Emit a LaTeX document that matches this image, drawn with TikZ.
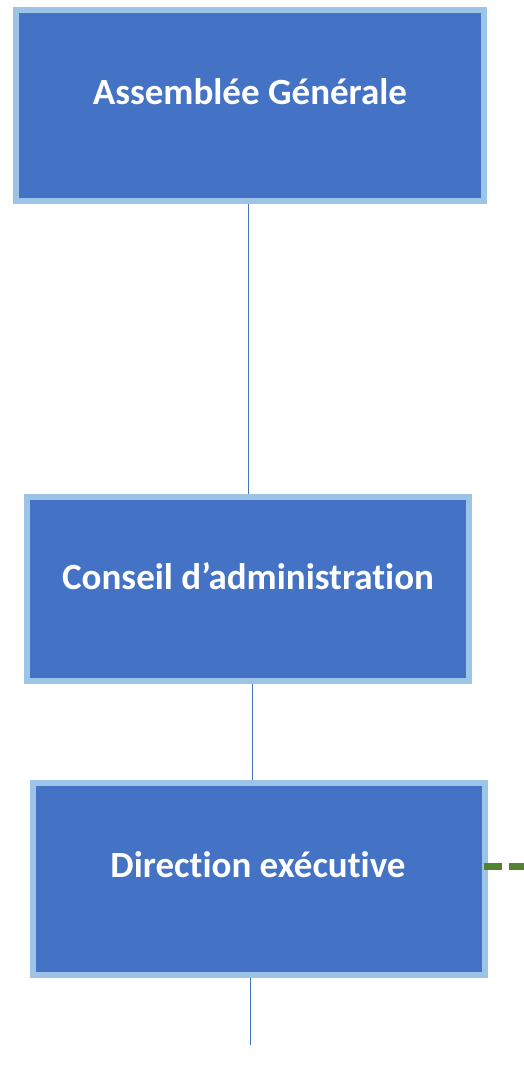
\documentclass[tikz,border=0pt]{standalone}
\usepackage{fontspec}
\setmainfont{Carlito}[Ligatures=NoCommon]
\usepackage{xcolor}
\usepackage{tikz}
\definecolor{boxfill}{HTML}{4472C4}
\definecolor{boxedge}{HTML}{9DC3E6}
\definecolor{dashgreen}{HTML}{548235}
\tikzset{
  orgbox/.style={draw=boxedge,line width=6pt,fill=boxfill,inner sep=0pt},
  boxtext/.style={text=white,font=\fontsize{37}{44}\selectfont\bfseries},
  link/.style={draw=boxfill,line width=1pt}
}

\begin{document}
\begin{tikzpicture}[x=1pt,y=-1pt]
    \useasboundingbox (0,0) rectangle (524,1067);
    \node[orgbox,minimum width=468pt,minimum height=191pt] (ag) at (250,105.5) {};
    \node[orgbox,minimum width=442pt,minimum height=184pt] (ca) at (248,589) {};
    \node[orgbox,minimum width=452pt,minimum height=192pt] (de) at (259,879) {};
    \node[boxtext] (agt) at (250,92) {Assemblée Générale};
    \node[boxtext] (cat) at (248,576) {Conseil d’administration};
    \node[boxtext] (det) at (258,865) {Direction exécutive};
    \coordinate (deend) at (250,1045);
    \coordinate (greenend) at (524,866);
    \draw[link] (ag.south -| 248,0) -- (ca.north -| 248,0);
    \draw[link] (ca.south -| 252,0) -- (de.north -| 252,0);
    \draw[link] (de.south -| deend) -- (deend);
    \draw[dashgreen,line width=7pt,dash pattern=on 18pt off 7pt] ([xshift=-4pt]de.east |- greenend) -- (greenend);
\end{tikzpicture}
\end{document}
